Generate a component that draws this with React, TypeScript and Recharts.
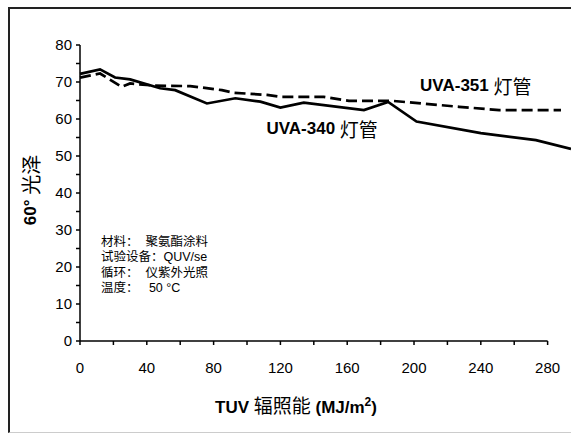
import React from 'react';
import {
  LineChart,
  Line,
  XAxis,
  YAxis,
  ReferenceLine,
  ReferenceDot,
  Label,
} from 'recharts';

// UVA-340 (solid)
const uva340Energy = [0, 12, 21, 30, 48, 57, 76, 93, 108, 120, 134, 170, 184.5, 201.5, 240, 273, 294];
const uva340Gloss = [72.2, 73.4, 71.2, 70.7, 68.3, 67.8, 64.2, 65.6, 64.7, 63.1, 64.4, 62.4, 64.6, 59.3, 56.2, 54.3, 51.9];

// UVA-351 (dashed)
const uva351Energy = [0, 12, 25, 30, 45, 66, 85, 92, 112, 120, 146, 161, 187, 227, 251, 288];
const uva351Gloss = [71.2, 72.3, 68.7, 69.6, 69.0, 68.9, 67.8, 67.1, 66.5, 66.0, 66.0, 64.9, 64.9, 63.3, 62.4, 62.4];

const xTicks = [0, 20, 40, 60, 80, 100, 120, 140, 160, 180, 200, 220, 240, 260, 280];
const yTicks = [0, 5, 10, 15, 20, 25, 30, 35, 40, 45, 50, 55, 60, 65, 70, 75, 80];

const infoLines = ['材料：  聚氨酯涂料', '试验设备：QUV/se', '循环：  仪紫外光照', '温度：   50 °C'];

const uva340Data = uva340Energy.map((x, i) => ({ x, y: uva340Gloss[i] }));
const uva351Data = uva351Energy.map((x, i) => ({ x, y: uva351Gloss[i] }));

const FONT = '"Liberation Sans", Arial, "Noto Sans CJK SC", sans-serif';
const CJK = '"Noto Sans CJK SC", sans-serif';

const tickStyle = { fontSize: 15, fill: '#000', fontFamily: FONT };

const annotation = (text: string) => (props: any) => {
  const { cx, cy } = props;
  const [latin, cjk] = text.split(' ');
  return (
    <text x={cx} y={cy} textAnchor="middle" dominantBaseline="central" fontWeight="bold" fontFamily={FONT}>
      <tspan fontSize={17}>{latin} </tspan>
      <tspan fontSize={19} fontFamily={CJK} fontWeight="normal">{cjk}</tspan>
    </text>
  );
};

function App() {
  return (
    <div
      style={{
        position: 'absolute',
        left: 8,
        top: 7,
        width: 563,
        height: 426,
        boxSizing: 'border-box',
        borderLeft: '2px solid #222',
        borderTop: '2px solid #222',
        borderBottom: '1px solid #ccc',
        background: '#fff',
      }}
    >
      <LineChart
        width={561}
        height={423}
        margin={{ top: 36, right: 0, left: 0, bottom: 0 }}
      >
        <XAxis
          dataKey="x"
          type="number"
          domain={[0, 294]}
          ticks={xTicks}
          interval={0}
          allowDuplicatedCategory={false}
          tickFormatter={(v: number) => (v % 40 === 0 ? String(v) : '')}
          tick={tickStyle}
          tickSize={4}
          tickMargin={17}
          tickLine={{ stroke: '#000', strokeWidth: 1.5 }}
          axisLine={false}
          height={91}
        >
          <Label
            content={(props: any) => {
              const vb = props.viewBox;
              return (
                <text x={vb.x + 216} y={vb.y + 72} textAnchor="middle" fontWeight="bold" fontFamily={FONT}>
                  <tspan fontSize={17}>TUV </tspan>
                  <tspan fontSize={19} fontFamily={CJK} fontWeight="normal">辐照能</tspan>
                  <tspan fontSize={17}> (MJ/m</tspan>
                  <tspan fontSize={12} dy={-7}>2</tspan>
                  <tspan fontSize={17} dy={7}>)</tspan>
                </text>
              );
            }}
          />
        </XAxis>
        <YAxis
          type="number"
          domain={[0, 80]}
          ticks={yTicks}
          interval={0}
          tickFormatter={(v: number) => (v % 10 === 0 ? String(v) : '')}
          tick={tickStyle}
          tickSize={4}
          tickMargin={4}
          tickLine={{ stroke: '#000', strokeWidth: 1.5 }}
          axisLine={{ stroke: '#000', strokeWidth: 1.5 }}
          width={70}
        >
          <Label
            content={() => (
              <text
                x={20}
                y={181}
                transform="rotate(-90, 20, 181)"
                textAnchor="middle"
                dominantBaseline="central"
                fontWeight="bold"
                fontFamily={FONT}
              >
                <tspan fontSize={17}>60° </tspan>
                <tspan fontSize={20} fontFamily={CJK} fontWeight="normal">光泽</tspan>
              </text>
            )}
          />
        </YAxis>
        <ReferenceLine
          segment={[{ x: 0, y: 0 }, { x: 280, y: 0 }]}
          stroke="#000"
          strokeWidth={1.5}
        />
        <Line
          data={uva351Data}
          dataKey="y"
          type="linear"
          stroke="#000"
          strokeWidth={2.7}
          strokeDasharray="11 5"
          dot={false}
          isAnimationActive={false}
        />
        <Line
          data={uva340Data}
          dataKey="y"
          type="linear"
          stroke="#000"
          strokeWidth={2.7}
          dot={false}
          isAnimationActive={false}
        />
        <ReferenceDot x={237} y={69.2} r={0} shape={annotation('UVA-351 灯管')} />
        <ReferenceDot x={145} y={57.6} r={0} shape={annotation('UVA-340 灯管')} />
      </LineChart>
      <div
        style={{
          position: 'absolute',
          left: 91,
          top: 226,
          fontFamily: FONT,
          fontSize: 12.5,
          lineHeight: '15.4px',
          color: '#000',
          whiteSpace: 'pre',
        }}
      >
        {infoLines.map((t) => (
          <div key={t}>{t}</div>
        ))}
      </div>
    </div>
  );
}

export default App;
